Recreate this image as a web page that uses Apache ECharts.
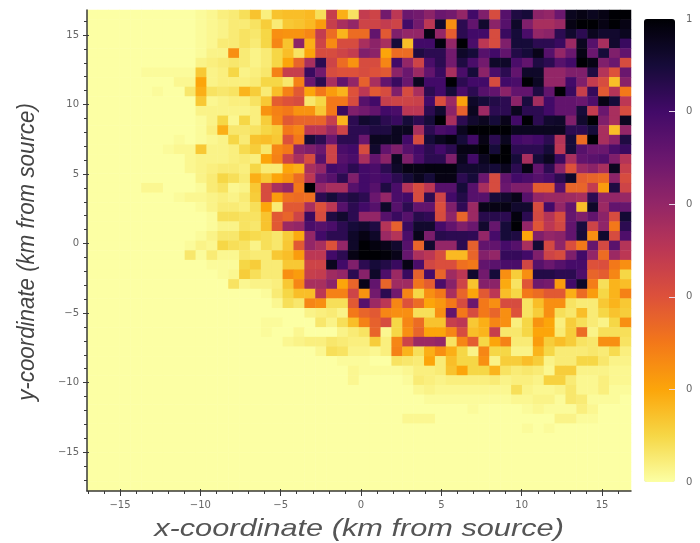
<!DOCTYPE html>
<html>
<head>
<meta charset="utf-8">
<script src="https://cdn.jsdelivr.net/npm/echarts@6/dist/echarts.min.js"></script>
<style>
html,body{margin:0;padding:0;background:#fff}
#chart{width:700px;height:543px;filter:blur(0.5px)}
</style>
</head>
<body>
<div id="chart"></div>
<script>
// Cell values in percent of the colour scale, top row first, left column first.
const row00=[0,0,0,0,0,0,0,0,0,0,1,2,4,5,8,14,4,14,15,15,16,8,47,18,7,48,45,68,50,70,68,62,70,68,60,80,65,42,75,88,90,62,60,70,95,97,95,97,100,100];
const row01=[0,0,0,0,0,0,0,0,0,0,1,2,3,5,5,7,12,5,13,14,16,22,47,55,60,45,45,48,45,80,68,50,92,25,85,72,92,62,75,93,65,55,55,58,97,100,100,97,100,97];
const row02=[0,0,0,0,0,0,0,0,0,0,1,2,3,5,7,6,10,25,24,24,27,48,33,17,33,33,72,38,65,60,60,97,60,37,85,80,80,42,82,90,78,60,62,85,92,85,95,92,92,95];
const row03=[0,0,0,0,0,0,0,0,0,0,1,2,5,5,7,5,10,27,14,62,18,45,26,42,42,55,62,55,90,15,80,80,98,60,100,78,50,42,65,90,90,85,85,82,58,95,75,55,92,82];
const row04=[0,0,0,0,0,0,0,0,0,0,1,3,3,25,5,3,5,10,15,7,20,42,42,45,48,65,62,20,33,33,88,85,85,68,93,90,75,80,72,87,90,96,75,60,70,97,70,90,65,72];
const row05=[0,0,0,0,0,0,0,0,0,0,3,4,5,6,5,3,5,10,20,35,55,85,45,33,24,42,42,27,80,60,45,78,85,68,88,78,68,93,93,78,72,88,85,75,80,100,97,65,70,42];
const row06=[0,0,0,0,0,1,1,1,1,1,13,3,4,10,3,4,6,28,47,47,82,68,42,40,40,42,40,38,62,70,58,72,82,55,78,90,62,78,85,72,93,93,60,60,65,65,88,52,40,70];
const row07=[0,0,0,0,0,0,0,0,2,2,20,3,4,4,4,5,10,10,6,28,70,85,55,72,60,36,55,72,82,70,95,80,80,100,85,80,80,42,80,78,100,94,60,60,80,65,48,42,15,63];
const row08=[0,0,0,0,0,0,1,0,0,6,18,7,6,7,17,12,5,15,28,38,20,30,22,17,40,50,38,42,65,42,55,85,80,90,78,85,75,72,62,72,72,88,72,100,82,47,83,38,52,30];
const row09=[0,0,0,0,0,0,0,0,0,0,13,2,3,4,4,7,13,37,40,42,6,10,30,30,42,75,80,47,45,45,46,80,41,58,21,93,90,87,85,62,89,56,80,72,72,70,77,97,90,50];
const row10=[0,0,0,0,0,0,0,0,0,0,3,3,3,3,3,4,24,28,30,24,24,13,30,82,65,68,72,80,78,50,50,85,92,62,36,95,58,85,85,95,85,85,80,72,72,90,48,70,55,42];
const row11=[0,0,0,0,0,0,0,0,0,0,1,3,10,2,10,4,12,27,38,35,35,35,47,17,85,92,90,85,82,90,85,90,100,55,85,92,95,90,96,80,100,85,92,93,65,92,100,65,55,95];
const row12=[0,0,0,0,0,0,0,0,0,0,1,4,18,6,6,7,10,12,30,27,50,50,58,45,85,85,88,88,95,95,55,85,78,80,95,100,100,100,100,95,95,95,95,95,85,85,90,55,15,60];
const row13=[0,0,0,0,0,0,0,0,1,0,1,2,3,10,5,14,15,13,40,30,90,85,70,85,85,70,95,95,95,80,42,90,95,98,90,80,97,85,95,80,78,80,85,52,90,33,100,55,62,88];
const row14=[0,0,0,0,0,0,0,1,2,2,13,3,3,4,9,12,6,27,30,62,65,70,45,78,80,42,92,72,65,75,80,85,80,85,97,97,100,90,100,85,85,85,90,50,90,75,70,70,78,82];
const row15=[0,0,0,0,0,0,0,0,0,2,3,3,3,4,5,4,20,28,45,55,42,75,45,75,78,55,72,62,95,65,78,85,85,65,95,80,95,100,100,90,55,90,95,82,55,72,74,76,65,52];
const row16=[0,0,0,0,0,0,0,0,0,2,3,4,5,5,4,10,5,5,20,18,55,60,80,78,85,80,78,85,93,97,97,98,98,98,92,92,92,90,95,85,97,72,85,62,40,58,62,55,95,47];
const row17=[0,0,0,0,0,0,0,0,0,0,3,5,10,8,5,18,13,20,24,33,50,70,75,85,65,80,78,80,85,90,95,90,97,97,85,90,70,42,72,80,78,75,78,85,93,37,35,33,62,42];
const row18=[0,0,0,0,0,2,2,0,0,0,1,5,7,2,3,13,42,55,60,30,100,60,55,55,75,80,75,88,78,52,42,50,75,75,90,75,55,42,70,65,65,37,37,75,35,35,48,22,88,45];
const row19=[0,0,0,0,0,0,0,0,1,2,2,3,4,3,5,12,42,22,32,33,32,85,90,85,88,85,70,60,78,80,42,85,45,80,87,75,75,90,92,96,75,60,58,58,57,55,85,60,60,59];
const row20=[0,0,0,0,0,0,0,0,0,0,1,3,5,5,4,8,20,5,38,38,55,40,50,75,85,80,75,93,75,85,72,72,41,65,84,58,96,97,97,92,92,42,80,60,72,15,93,58,72,71];
const row21=[0,0,0,0,0,0,0,0,0,0,0,1,8,8,7,7,14,38,35,45,82,42,88,92,85,60,60,75,82,75,86,84,42,61,35,58,86,86,85,98,85,43,52,42,71,65,72,62,42,91];
const row22=[0,0,0,0,0,0,0,0,0,0,0,1,3,3,7,6,14,38,58,60,78,75,78,85,90,92,88,52,36,82,92,92,79,72,65,70,92,71,90,100,60,39,50,44,72,89,45,61,30,85];
const row23=[0,0,0,0,0,0,0,0,0,0,1,3,6,6,10,9,8,6,12,19,60,80,85,85,93,97,93,58,52,78,96,66,86,85,85,84,60,79,90,88,20,65,60,62,72,90,25,92,42,77];
const row24=[0,0,0,0,0,0,0,0,0,1,3,2,10,8,7,3,8,6,13,38,60,55,40,60,93,100,98,96,92,75,35,92,60,60,85,36,72,72,79,75,55,91,43,61,41,30,71,43,74,52];
const row25=[0,0,0,0,0,0,0,0,0,6,1,5,2,2,6,5,5,13,15,22,50,50,80,85,97,100,100,99,96,71,54,50,42,16,16,35,64,60,83,83,80,65,45,42,65,80,60,33,58,50];
const row26=[0,0,0,0,0,0,0,0,0,0,0,1,1,1,10,12,5,5,13,13,45,45,95,80,65,85,90,87,82,97,78,44,41,41,32,30,72,74,78,78,44,75,70,75,79,79,40,41,30,25];
const row27=[0,0,0,0,0,0,0,0,0,0,0,0,1,2,12,8,5,5,25,22,47,48,57,60,85,63,93,77,58,82,36,79,35,57,50,92,68,90,25,12,25,87,87,85,85,77,35,37,27,10];
const row28=[0,0,0,0,0,0,0,0,0,0,0,0,0,7,2,3,3,4,13,27,55,55,62,20,35,96,72,35,57,57,31,37,78,63,45,14,64,62,19,7,39,69,67,22,80,93,29,8,17,15];
const row29=[0,0,0,0,0,0,0,0,0,0,0,0,0,0,0,0,1,5,10,15,15,50,28,28,45,24,68,85,68,27,10,25,30,55,35,20,38,50,15,10,30,33,38,38,18,33,22,10,17,28];
const row30=[0,0,0,0,0,0,0,0,0,0,0,0,0,0,0,0,0,2,8,6,27,25,8,8,38,75,58,50,27,40,33,20,23,30,42,70,30,25,42,42,7,15,25,25,7,5,5,13,17,13];
const row31=[0,0,0,0,0,0,0,0,0,0,0,0,0,0,0,0,0,0,0,0,3,4,5,3,30,35,38,27,25,25,8,8,25,72,30,42,30,35,25,40,7,12,25,8,6,15,5,10,14,12];
const row32=[0,0,0,0,0,0,0,0,0,0,0,0,0,0,0,0,1,1,0,0,0,6,3,8,15,28,36,42,10,27,33,14,14,47,50,13,18,27,25,4,10,24,20,4,12,8,5,3,10,25];
const row33=[0,0,0,0,0,0,0,0,0,0,0,0,0,0,0,0,1,0,0,2,0,0,0,3,5,7,35,2,10,25,35,20,20,27,42,15,17,47,6,6,10,20,20,5,12,33,3,8,8,8];
const row34=[0,0,0,0,0,0,0,0,0,0,0,0,0,0,0,0,0,0,2,3,4,4,6,5,4,4,12,4,27,45,58,58,60,7,27,37,10,20,28,5,5,22,12,15,12,7,6,25,25,7];
const row35=[0,0,0,0,0,0,0,0,0,0,0,0,0,0,0,0,0,0,0,0,0,2,8,7,3,3,2,4,28,17,8,18,25,18,10,3,27,10,10,3,3,17,10,5,5,5,6,5,9,4];
const row36=[0,0,0,0,0,0,0,0,0,0,0,0,0,0,0,0,0,0,0,0,0,0,0,1,1,1,0,0,7,6,5,20,5,15,10,10,25,3,12,12,15,12,3,5,5,10,10,6,3,3];
const row37=[0,0,0,0,0,0,0,0,0,0,0,0,0,0,0,0,0,0,0,0,0,0,0,0,2,1,1,1,1,2,4,4,5,14,20,10,10,17,7,5,6,5,2,12,12,3,3,3,2,2];
const row38=[0,0,0,0,0,0,0,0,0,0,0,0,0,0,0,0,0,0,0,0,0,0,0,0,2,0,0,0,0,1,5,4,3,4,4,4,4,5,3,4,4,3,11,11,5,2,2,4,2,2];
const row39=[0,0,0,0,0,0,0,0,0,0,0,0,0,0,0,0,0,0,0,0,0,0,0,0,0,0,0,0,0,0,2,3,2,2,2,2,2,2,2,8,3,2,2,3,6,2,2,4,1,1];
const row40=[0,0,0,0,0,0,0,0,0,0,0,0,0,0,0,0,0,0,0,0,0,0,0,0,0,0,0,0,0,0,0,1,1,1,1,1,1,1,1,2,2,3,3,1,6,5,1,1,1,0];
const row41=[0,0,0,0,0,0,0,0,0,0,0,0,0,0,0,0,0,0,0,0,0,0,0,0,0,0,0,0,0,0,0,0,0,0,0,1,0,0,0,0,1,2,1,1,1,4,2,0,0,0];
const row42=[0,0,0,0,0,0,0,0,0,0,0,0,0,0,0,0,0,0,0,0,0,0,0,0,0,0,0,0,0,2,2,2,0,0,0,0,0,0,0,0,0,0,0,3,3,1,1,0,0,0];
const row43=[0,0,0,0,0,0,0,0,0,0,0,0,0,0,0,0,0,0,0,0,0,0,0,0,0,0,0,0,0,0,0,0,0,0,0,0,0,0,0,0,1,0,1,0,0,0,0,0,0,0];
const row44=[0,0,0,0,0,0,0,0,0,0,0,0,0,0,0,0,0,0,0,0,0,0,0,0,0,0,0,0,0,0,0,0,0,0,0,0,0,0,0,0,0,0,0,0,0,0,0,0,0,0];
const row45=[0,0,0,0,0,0,0,0,0,0,0,0,0,0,0,0,0,0,0,0,0,0,0,0,0,0,0,0,0,0,0,0,0,0,0,0,0,0,0,0,0,0,0,0,0,0,0,0,0,0];
const row46=[0,0,0,0,0,0,0,0,0,0,0,0,0,0,0,0,0,0,0,0,0,0,0,0,0,0,0,0,0,0,0,0,0,0,0,0,0,0,0,0,0,0,0,0,0,0,0,0,0,0];
const row47=[0,0,0,0,0,0,0,0,0,0,0,0,0,0,0,0,0,0,0,0,0,0,0,0,0,0,0,0,0,0,0,0,0,0,0,0,0,0,0,0,0,0,0,0,0,0,0,0,0,0];
const row48=[0,0,0,0,0,0,0,0,0,0,0,0,0,0,0,0,0,0,0,0,0,0,0,0,0,0,0,0,0,0,0,0,0,0,0,0,0,0,0,0,0,0,0,0,0,0,0,0,0,0];
const row49=[0,0,0,0,0,0,0,0,0,0,0,0,0,0,0,0,0,0,0,0,0,0,0,0,0,0,0,0,0,0,0,0,0,0,0,0,0,0,0,0,0,0,0,0,0,0,0,0,0,0];
const rows=[row00,row01,row02,row03,row04,row05,row06,row07,row08,row09,row10,row11,row12,row13,row14,row15,row16,row17,row18,row19,row20,row21,row22,row23,row24,row25,row26,row27,row28,row29,row30,row31,row32,row33,row34,row35,row36,row37,row38,row39,row40,row41,row42,row43,row44,row45,row46,row47,row48,row49];

const majorTicks=[-15,-10,-5,0,5,10,15];
const minorTicks=[-17,-16,-14,-13,-12,-11,-9,-8,-7,-6,-4,-3,-2,-1,1,2,3,4,6,7,8,9,11,12,13,14,16];
const colorTickMarks=[0.2,0.4,0.6,0.8];
const colorLabels=[0,0.2,0.4,0.6,0.8,1];
const infernoReversed=['#fcffa4','#f6d746','#fca50a','#f37819','#dd513a','#bc3754','#932667','#6a176e','#420a68','#160b39','#000004'];
const xRange=[-17.05,16.8];
const yRange=[-17.8,16.8];
const xTitle='x-coordinate (km from source)';
const yTitle='y-coordinate (km from source)';

const plot={left:87,top:10,width:544,height:481};
const lineColor='#3a3a3a', textColor='#666';

const cats=rows.map((_,i)=>String(i));
const cells=[];
rows.forEach((r,y)=>r.forEach((v,x)=>cells.push([x,y,v/100])));

const hidden={axisLine:{show:false,onZero:false},axisTick:{show:false},axisLabel:{show:false},splitLine:{show:false}};
const minusLabel=v=>String(v).replace('-','\u2212');

function xv(gridIndex,extra){return Object.assign({type:'value',gridIndex,position:'bottom',min:xRange[0],max:xRange[1],z:6},hidden,extra);}
function yv(gridIndex,extra){return Object.assign({type:'value',gridIndex,position:'left',min:yRange[0],max:yRange[1],z:6},hidden,extra);}

const option={
  animation:false,
  backgroundColor:'#fff',
  grid:[
    Object.assign({},plot),
    Object.assign({},plot),
    Object.assign({},plot),
    Object.assign({},plot),
    {left:644,top:19,width:31,height:463}
  ],
  xAxis:[
    {type:'category',gridIndex:0,data:cats,show:false},
    xv(1,{
      axisLine:{show:true,onZero:false,lineStyle:{color:lineColor,width:1.5}},
      axisTick:{show:true,length:5,customValues:majorTicks,lineStyle:{color:lineColor,width:1}},
      axisLabel:{show:true,customValues:majorTicks,formatter:minusLabel,color:textColor,fontFamily:'DejaVu Sans',fontSize:10,margin:9,hideOverlap:false}
    }),
    xv(2,{axisTick:{show:true,length:3,customValues:minorTicks,lineStyle:{color:lineColor,width:1}}}),
    xv(3,{axisTick:{show:true,inside:true,length:2,customValues:majorTicks,lineStyle:{color:lineColor,width:1}}}),
    {type:'value',gridIndex:4,min:0,max:1,show:false}
  ],
  yAxis:[
    {type:'category',gridIndex:0,data:cats,inverse:true,show:false},
    yv(1,{
      axisLine:{show:true,onZero:false,lineStyle:{color:lineColor,width:1.5}},
      axisTick:{show:true,length:4,customValues:majorTicks,lineStyle:{color:lineColor,width:1}},
      axisLabel:{show:true,customValues:majorTicks,formatter:minusLabel,color:textColor,fontFamily:'DejaVu Sans',fontSize:10,margin:8,hideOverlap:false}
    }),
    yv(2,{axisTick:{show:true,length:3,customValues:minorTicks,lineStyle:{color:lineColor,width:1}}}),
    yv(3,{axisTick:{show:true,inside:true,length:2,customValues:majorTicks,lineStyle:{color:lineColor,width:1}}}),
    {type:'value',gridIndex:4,min:0,max:1,interval:0.2,position:'right',z:8,splitLine:{show:false},
      axisLine:{show:false,onZero:false},
      axisTick:{show:true,inside:true,length:6,customValues:colorTickMarks,lineStyle:{color:'#e8d8e8',width:1}},
      axisLabel:{show:true,customValues:colorLabels,margin:11,formatter:v=>String(v).charAt(0),color:textColor,fontFamily:'DejaVu Sans',fontSize:10,hideOverlap:false}
    }
  ],
  visualMap:{
    type:'continuous',min:0,max:1,seriesIndex:0,left:644,top:19,padding:0,
    itemWidth:31,itemHeight:463,calculable:false,hoverLink:false,
    text:null,inRange:{color:infernoReversed}
  },
  series:[{
    type:'heatmap',xAxisIndex:0,yAxisIndex:0,data:cells,progressive:0,
    itemStyle:{borderWidth:0},emphasis:{disabled:true}
  }],
  graphic:[
    {type:'text',x:359,y:529,scaleX:1.28,scaleY:1,silent:true,
      style:{text:xTitle,fontFamily:'Liberation Sans',fontStyle:'italic',fontSize:24,fill:'#555',align:'center',verticalAlign:'middle'}},
    {type:'text',x:27,y:252,rotation:Math.PI/2,scaleX:0.93,scaleY:1,silent:true,
      style:{text:yTitle,fontFamily:'Liberation Sans',fontStyle:'italic',fontSize:24,fill:'#444',align:'center',verticalAlign:'middle'}}
  ]
};
const chart=echarts.init(document.getElementById('chart'),null,{renderer:'canvas'});
chart.setOption(option);
</script>
</body>
</html>
